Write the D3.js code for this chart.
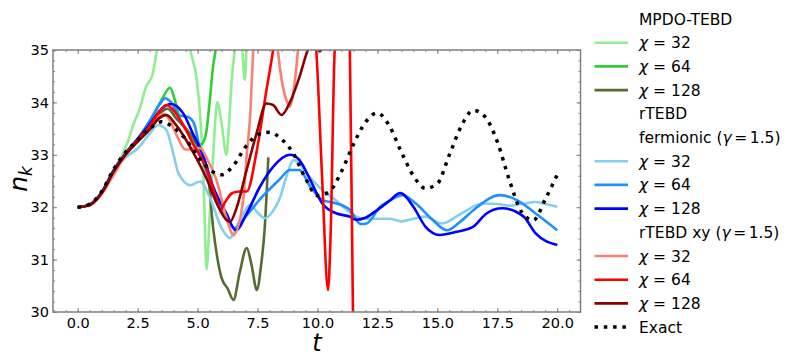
<!DOCTYPE html>
<html><head><meta charset="utf-8">
<script src="https://cdn.jsdelivr.net/npm/d3@7"></script>
<style>body{margin:0;background:#fff} svg{display:block} text{font-family:"DejaVu Sans",sans-serif}</style>
</head><body><svg id="c" width="797" height="361"></svg>
<script>
// ---------- data ----------
const xTicks = [0, 2.5, 5, 7.5, 10, 12.5, 15, 17.5, 20];
const yTicks = [30, 31, 32, 33, 34, 35];

const exact = [[0,32.0],[0.5,32.06],[1,32.3],[1.5,32.72],[2,33.05],[2.5,33.28],[3,33.5],[3.5,33.63],[4,33.52],[4.5,33.3],[5,32.98],[5.5,32.72],[6,32.62],[6.5,32.8],[7,33.15],[7.5,33.38],[8,33.43],[8.5,33.3],[9,33.02],[9.5,32.55],[10,32.22],[10.5,32.3],[11,32.68],[11.5,33.2],[12,33.62],[12.5,33.8],[13,33.55],[13.5,33.05],[14,32.6],[14.5,32.36],[15,32.45],[15.5,33.0],[16,33.55],[16.5,33.85],[17,33.72],[17.5,33.25],[18,32.52],[18.5,31.92],[19,31.75],[19.5,32.15],[20,32.62]];

const mpdo32 = [[0,32.0],[0.5,32.05],[1,32.28],[1.5,32.7],[1.8,32.95],[2.05,33.2],[2.3,33.55],[2.6,33.9],[2.85,34.3],[3.1,34.5],[3.3,35.0],[3.5,35.8],[4,36.5],[4.5,35.6],[4.7,35.0],[4.96,34.45],[5.1,33.8],[5.23,32.8],[5.38,30.82],[5.5,31.8],[5.65,33.0],[5.82,34.0],[6,33.6],[6.2,33.0],[6.3,33.5],[6.42,34.4],[6.55,35.0],[6.7,35.6],[6.85,35.1],[6.97,34.43],[7.05,35.1],[7.2,35.8],[7.5,36.5]];
const mpdo64 = [[0,32.0],[0.5,32.05],[1,32.28],[1.5,32.7],[2,33.03],[2.5,33.3],[3,33.62],[3.5,34.05],[3.85,34.28],[4.05,34.05],[4.25,33.7],[4.6,33.45],[4.95,33.22],[5.15,33.2],[5.35,33.4],[5.5,34.0],[5.65,34.7],[5.75,35.0],[5.9,35.8],[6.2,36.5]];
const mpdo128 = [[0,32.0],[0.5,32.05],[1,32.28],[1.5,32.7],[2,33.03],[2.5,33.3],[3,33.55],[3.4,33.78],[3.75,33.88],[4.1,33.7],[4.5,33.5],[4.85,33.3],[5.2,32.95],[5.4,32.75],[5.65,31.6],[5.8,31.1],[6,30.65],[6.25,30.45],[6.5,30.23],[6.75,30.74],[7.05,31.22],[7.25,30.9],[7.47,30.42],[7.65,30.9],[7.8,31.6],[7.95,32.95]];

const ferm32 = [[0,32.0],[0.5,32.05],[1,32.28],[1.5,32.68],[2,32.95],[2.5,33.12],[3,33.4],[3.35,33.57],[3.7,33.47],[4,33.0],[4.2,32.65],[4.7,32.42],[5.1,32.49],[5.5,32.2],[6,31.6],[6.35,31.41],[6.7,31.7],[7.2,32.04],[7.5,31.9],[7.8,31.79],[8.1,31.9],[8.45,32.2],[8.75,32.65],[9,32.9],[9.3,32.8],[9.6,32.62],[10.2,32.33],[10.8,32.12],[11.5,31.85],[12,31.78],[12.5,31.78],[13,31.78],[13.5,31.73],[14,31.78],[14.5,31.82],[15.2,31.69],[16,31.88],[16.9,32.07],[17.5,32.06],[18,32.03],[18.5,32.06],[19.1,32.1],[19.5,32.06],[20,32.01]];
const ferm64 = [[0,32.0],[0.5,32.05],[1,32.28],[1.5,32.7],[2,33.03],[2.5,33.3],[3,33.65],[3.4,33.95],[3.65,34.08],[3.9,34.0],[4.25,33.75],[4.6,33.72],[4.85,33.6],[5.1,33.1],[5.65,32.33],[6.2,31.76],[6.55,31.6],[7,31.82],[7.7,32.2],[8.4,32.52],[8.85,32.71],[9.25,32.71],[9.7,32.39],[10.2,32.14],[10.8,32.07],[11.35,31.95],[11.8,31.68],[12.05,31.69],[12.6,32.0],[13.1,32.15],[13.55,32.23],[14.1,32.07],[14.8,31.76],[15.4,31.56],[15.95,31.72],[16.6,31.98],[17.6,32.23],[18.3,32.14],[19.1,31.88],[20,31.56]];
const ferm128 = [[0,32.0],[0.5,32.05],[1,32.28],[1.5,32.7],[2,33.03],[2.5,33.3],[3,33.58],[3.5,33.88],[3.9,33.97],[4.4,33.79],[4.8,33.41],[5.2,33.03],[5.65,32.39],[6.2,31.88],[6.6,31.56],[7.05,31.88],[7.6,32.39],[8.15,32.77],[8.85,33.0],[9.25,32.9],[9.7,32.52],[10.2,32.07],[10.8,31.88],[11.35,31.82],[11.6,31.76],[12,31.8],[12.5,31.95],[13,32.12],[13.45,32.27],[14,32.01],[14.5,31.63],[15.1,31.47],[15.8,31.53],[16.5,31.63],[17.05,31.88],[17.7,31.98],[18.6,31.82],[19.1,31.5],[20,31.28]];

const xy32 = [[0,32.0],[0.5,32.04],[1,32.25],[1.5,32.62],[2,33.0],[2.5,33.25],[3,33.5],[3.35,33.72],[3.6,33.78],[3.85,33.65],[4.15,33.35],[4.5,33.1],[4.9,33.12],[5.1,33.13],[5.4,32.92],[5.8,32.5],[6.2,31.8],[6.5,31.47],[6.9,32.14],[7.05,33.0],[7.2,33.8],[7.32,35.0],[7.5,36.0],[8,36.5],[8.3,35.2],[8.45,34.6],[8.7,34.05],[8.85,33.92],[9,34.2],[9.19,35.0],[9.4,36.0]];
const xy64 = [[0,32.0],[0.5,32.04],[1,32.27],[1.5,32.68],[2,33.02],[2.5,33.28],[3,33.55],[3.4,33.82],[3.7,33.95],[4,33.85],[4.3,33.65],[4.8,33.22],[5.4,32.7],[5.8,32.14],[5.95,31.95],[6.15,32.1],[6.45,32.27],[6.75,32.3],[7.05,32.3],[7.45,33.03],[7.85,34.17],[8.15,35.0],[8.5,36.2],[9,37],[9.6,36.2],[9.95,35.0],[10.2,32.5],[10.44,30.42],[10.55,31.5],[10.72,35.0],[11,36.0],[11.2,36.0],[11.35,35.0],[11.48,30.0],[11.55,29.0]];
const xy128 = [[0,32.0],[0.5,32.04],[1,32.27],[1.5,32.68],[2,33.0],[2.5,33.25],[3,33.48],[3.4,33.7],[3.7,33.76],[4.1,33.57],[4.8,33.06],[5.4,32.52],[5.8,32.07],[6.2,31.76],[6.35,31.72],[6.6,31.95],[7.04,32.7],[7.46,33.41],[7.87,33.98],[8.15,33.95],[8.5,33.76],[8.85,34.0],[9.26,34.5],[9.6,35.0],[9.8,35.15],[10.1,34.97],[10.3,35.2],[10.6,36]];

const seriesData = [mpdo32, mpdo64, mpdo128, ferm32, ferm64, ferm128, xy32, xy64, xy128];
const seriesColors = ["#90ee90","#32cd32","#556b2f","#87ceeb","#1e90ff","#0000ff","#fa8072","#ff0000","#8b0000"];

// legend rows: [text, italic?, extra dx]
const legendRows = [
  {type:"head", parts:[["MPDO-TEBD",0]]},
  {type:"line", s:0, parts:[["χ",1],[" = 32",0]]},
  {type:"line", s:1, parts:[["χ",1],[" = 64",0]]},
  {type:"line", s:2, parts:[["χ",1],[" = 128",0]]},
  {type:"head", parts:[["rTEBD",0]]},
  {type:"head", parts:[["fermionic (",0],["γ",1],["=",0,2.5],["1.5)",0,2.5]]},
  {type:"line", s:3, parts:[["χ",1],[" = 32",0]]},
  {type:"line", s:4, parts:[["χ",1],[" = 64",0]]},
  {type:"line", s:5, parts:[["χ",1],[" = 128",0]]},
  {type:"head", parts:[["rTEBD xy (",0],["γ",1],["=",0,2.5],["1.5)",0,2.5]]},
  {type:"line", s:6, parts:[["χ",1],[" = 32",0]]},
  {type:"line", s:7, parts:[["χ",1],[" = 64",0]]},
  {type:"line", s:8, parts:[["χ",1],[" = 128",0]]},
  {type:"exact", parts:[["Exact",0]]}
];

// ---------- drawing ----------
const L = 53, R = 580.5, T = 50, B = 312;
const x = d3.scaleLinear().domain([-1.03, 20.97]).range([L, R]);
const y = d3.scaleLinear().domain([30, 35]).range([B, T]);
const svg = d3.select("#c");
svg.append("defs").append("clipPath").attr("id","clip")
  .append("rect").attr("x",L).attr("y",T).attr("width",R-L).attr("height",B-T);

const line = d3.line().x(d=>x(d[0])).y(d=>y(d[1])).curve(d3.curveMonotoneX);
const plot = svg.append("g").attr("clip-path","url(#clip)");
seriesData.forEach((d,i)=>{
  plot.append("path").attr("d",line(d)).attr("fill","none")
    .attr("stroke",seriesColors[i]).attr("stroke-width",2.6).attr("stroke-linejoin","round");
});
plot.append("path").attr("d",line(exact)).attr("fill","none")
  .attr("stroke","#000").attr("stroke-width",3.5).attr("stroke-dasharray","3.5 5.8");

const axisColor = "#808080";
const minorX = d3.range(-1, 21.01, 0.5).filter(v=>v>x.domain()[0] && v<x.domain()[1]);
const minorY = d3.range(30, 35.001, 0.2);

function styleAxis(g, fs){
  g.select(".domain").remove();
  g.selectAll("line").attr("stroke",axisColor).attr("stroke-width",1);
  g.selectAll("text").attr("fill","#000").style("font-size",fs+"px").style("font-family","DejaVu Sans");
}
svg.append("g").attr("transform",`translate(0,${B})`)
  .call(d3.axisBottom(x).tickValues(minorX).tickSize(-2).tickFormat(""))
  .call(g=>styleAxis(g,14.5));
svg.append("g").attr("transform",`translate(0,${B})`)
  .call(d3.axisBottom(x).tickValues(xTicks).tickSizeInner(-4).tickSizeOuter(0).tickPadding(6).tickFormat(d3.format(".1f")))
  .call(g=>styleAxis(g,14.5));
svg.append("g").attr("transform",`translate(0,${T})`)
  .call(d3.axisTop(x).tickValues(minorX).tickSize(-2).tickFormat(""))
  .call(g=>styleAxis(g,14.5));
svg.append("g").attr("transform",`translate(0,${T})`)
  .call(d3.axisTop(x).tickValues(xTicks).tickSize(-4).tickFormat(""))
  .call(g=>styleAxis(g,14.5));
svg.append("g").attr("transform",`translate(${L},0)`)
  .call(d3.axisLeft(y).tickValues(minorY).tickSize(-2).tickFormat(""))
  .call(g=>styleAxis(g,14.5));
svg.append("g").attr("transform",`translate(${L},0)`)
  .call(d3.axisLeft(y).tickValues(yTicks).tickSizeInner(-4).tickSizeOuter(0).tickPadding(4).tickFormat(d3.format("d")))
  .call(g=>styleAxis(g,14.5));
svg.append("g").attr("transform",`translate(${R},0)`)
  .call(d3.axisRight(y).tickValues(minorY).tickSize(-2).tickFormat(""))
  .call(g=>styleAxis(g,14.5));
svg.append("g").attr("transform",`translate(${R},0)`)
  .call(d3.axisRight(y).tickValues(yTicks).tickSize(-4).tickFormat(""))
  .call(g=>styleAxis(g,14.5));

svg.append("rect").attr("x",L).attr("y",T).attr("width",R-L).attr("height",B-T)
  .attr("fill","none").attr("stroke",axisColor).attr("stroke-width",1.5);

svg.append("text").attr("x",317).attr("y",351).attr("text-anchor","middle")
  .style("font-size","24px").style("font-style","italic").text("t");
const yl = svg.append("text").attr("transform","translate(27,179) rotate(-90)")
  .attr("text-anchor","middle").style("font-size","25px").style("font-style","italic");
yl.append("tspan").text("n");
yl.append("tspan").attr("dy",5).style("font-size","17px").text("k");

const lg = svg.append("g");
const lx0 = 594.5, lx1 = 628, tx = 639, ly0 = 19, ldy = 23.7;
legendRows.forEach((r,i)=>{
  const yy = ly0 + i*ldy;
  if(r.type==="line"){
    lg.append("line").attr("x1",lx0).attr("x2",lx1).attr("y1",yy).attr("y2",yy)
      .attr("stroke",seriesColors[r.s]).attr("stroke-width",2.6);
  } else if(r.type==="exact"){
    lg.append("line").attr("x1",lx0).attr("x2",lx1).attr("y1",yy).attr("y2",yy)
      .attr("stroke","#000").attr("stroke-width",3.5).attr("stroke-dasharray","3.5 5.8");
  }
  const t = lg.append("text").attr("x",tx).attr("y",yy).attr("dy","0.36em").style("font-size","15.5px");
  r.parts.forEach(p=>{
    const ts = t.append("tspan").text(p[0]);
    if(p[1]) ts.style("font-style","italic");
    if(p[2]) ts.attr("dx",p[2]);
  });
});
</script>
</body></html>
